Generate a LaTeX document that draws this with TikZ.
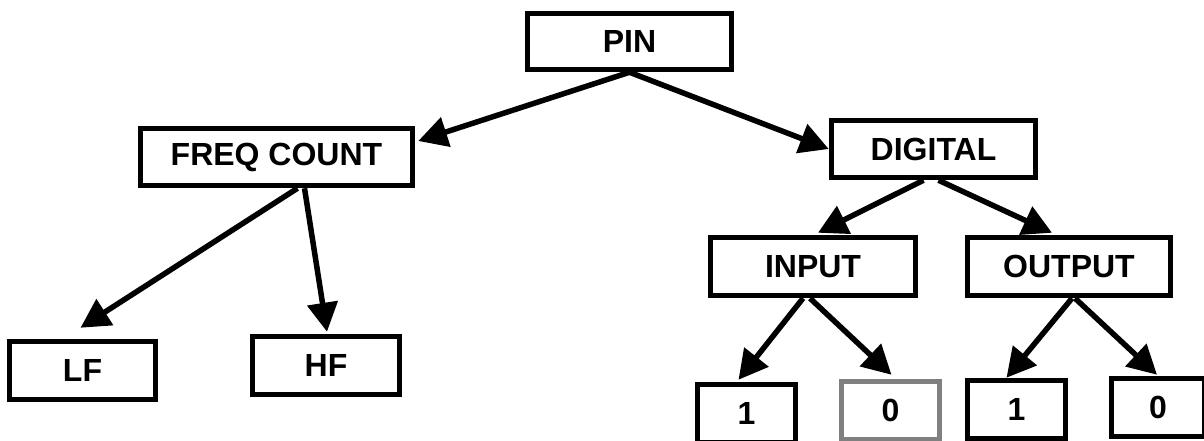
\documentclass[tikz,border=0pt]{standalone}
\usepackage{fontspec}
\setmainfont{Liberation Sans}
\usetikzlibrary{arrows.meta,calc}
\begin{document}
\begin{tikzpicture}[x=1pt,y=-1pt,
  box/.style={draw=black,line width=5.5pt,rectangle,inner sep=0pt,fill=white,
    font=\fontsize{32}{36}\selectfont\bfseries},
  graybox/.style={box,draw={rgb,255:red,128;green,128;blue,128}},
  conn/.style={line width=5.5pt,-{Triangle[length=29pt,width=30pt]}}]
\fill[white] (0,0) rectangle (1204,440);
\useasboundingbox (0,0) rectangle (1204,440);
\node[box,minimum width=204pt,minimum height=56pt] (pin) at (629.5,41.5) {PIN};
\node[box,minimum width=272pt,minimum height=57pt] (freq) at (276.5,157) {FREQ COUNT};
\node[box,minimum width=204pt,minimum height=57pt] (digital) at (933.5,149) {DIGITAL};
\node[box,minimum width=205pt,minimum height=58pt] (input) at (813,266.5) {INPUT};
\node[box,minimum width=203pt,minimum height=58pt] (output) at (1069,266.5) {OUTPUT};
\node[box,minimum width=146pt,minimum height=58pt] (lf) at (82.5,370.5) {LF};
\node[box,minimum width=147pt,minimum height=58pt] (hf) at (326,365.5) {HF};
\node[box,minimum width=98pt,minimum height=58pt] (ione) at (746.5,413.5) {1};
\node[graybox,minimum width=98pt,minimum height=58pt] (izero) at (890.5,410.5) {0};
\node[box,minimum width=98pt,minimum height=58pt] (oone) at (1016.5,409.5) {1};
\node[box,minimum width=93pt,minimum height=58pt] (ozero) at (1158,407.5) {0};
\draw[conn] (pin.south) -- ($(freq.east)+(3,-16)$);
\draw[conn] (pin.south) -- (digital.west);
\draw[conn] ($(freq.south)+(21,0)$) -- ($(lf.north)+(-2,-11)$);
\draw[conn] ($(freq.south)+(28,0)$) -- ($(hf.north)+(1,-2)$);
\draw[conn] ($(digital.south)+(-10,0)$) -- ($(input.north)+(5,-2)$);
\draw[conn] ($(digital.south)+(5,0)$) -- ($(output.north)+(-17,-2)$);
\draw[conn] ($(input.south)+(-10,0)$) -- ($(ione.north)+(-8,-2)$);
\draw[conn] ($(input.south)+(-3,0)$) -- ($(izero.north)+(1,-4)$);
\draw[conn] ($(output.south)+(3,0)$) -- ($(oone.north)+(-10,0)$);
\draw[conn] ($(output.south)+(6,0)$) -- ($(ozero.north)+(-1,-1)$);
\end{tikzpicture}
\end{document}
